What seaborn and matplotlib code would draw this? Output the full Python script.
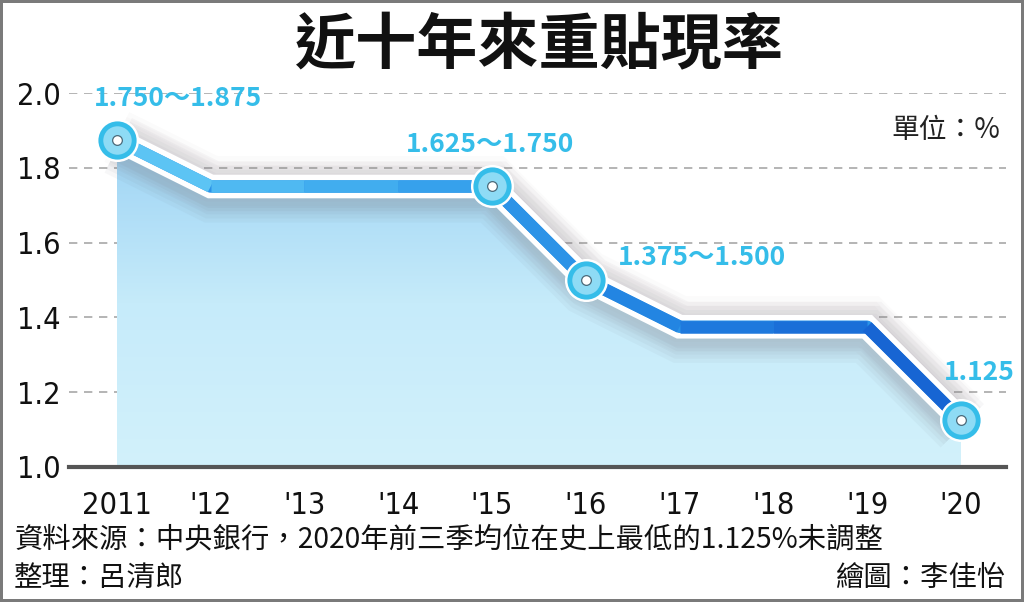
import numpy as np
import matplotlib
matplotlib.use('Agg')
import matplotlib.pyplot as plt
import matplotlib.patheffects as pe
from matplotlib.collections import LineCollection
from matplotlib.colors import LinearSegmentedColormap
from matplotlib.patches import PathPatch
import seaborn as sns

# data
years = ['2011', "'12", "'13", "'14", "'15", "'16", "'17", "'18", "'19", "'20"]
rates = [1.875, 1.75, 1.75, 1.75, 1.75, 1.5, 1.375, 1.375, 1.375, 1.125]
labels = ['1.750～1.875', '', '', '', '1.625～1.750', '1.375～1.500', '', '', '', '1.125']
label_offsets = [(61, 41), None, None, None, (-2, 42), (116, 22), None, None, None, (18, 48)]
yticks = [1.0, 1.2, 1.4, 1.6, 1.8, 2.0]

title = '近十年來重貼現率'
unit = '單位：%'
source = '資料來源：中央銀行，2020年前三季均位在史上最低的1.125%未調整'
editor = '整理：呂清郎'
artist = '繪圖：李佳怡'

sns.set_style('white')
plt.rcParams['font.family'] = ['Noto Sans CJK TC', 'DejaVu Sans']

x = np.arange(len(years))
y = np.array(rates)

fig = plt.figure(figsize=(10.24, 6.02), dpi=100, linewidth=3, edgecolor='#7a7a7a')
ax = fig.add_axes([0.0674, 0.2243, 0.9150, 0.6212])

# gradient fill under the line
fill = ax.fill_between(x, y, 1.0, color='none', lw=0)
clip = PathPatch(fill.get_paths()[0], transform=ax.transData, facecolor='none', edgecolor='none')
ax.add_patch(clip)
fill_cmap = LinearSegmentedColormap.from_list('fill', ['#d2f1fb', '#c6ebfa', '#9dd3f4'])
grad = np.linspace(0, 1, 256).reshape(-1, 1)
im = ax.imshow(grad, extent=[x[0], x[-1], 1.0, y.max()], origin='lower', aspect='auto',
               cmap=fill_cmap, zorder=1)
im.set_clip_path(clip)

# soft shadow: stacked faint strokes
glow = [pe.SimpleLineShadow(offset=(1, -4), shadow_color='#6a6a78', alpha=0.05, linewidth=w)
        for w in (44, 38, 32, 27, 23)]
glow += [pe.SimpleLineShadow(offset=(0, 2), shadow_color='#a89090', alpha=0.035, linewidth=w)
         for w in (40, 32, 26)]
sns.lineplot(x=x, y=y, ax=ax, color='white', lw=17, zorder=3,
             solid_joinstyle='miter', solid_capstyle='butt',
             path_effects=glow + [pe.Normal()])

# coloured line, light to dark blue
line_cmap = LinearSegmentedColormap.from_list('line', ['#63c9f5', '#3aa8ee', '#1f7ee0', '#1660d0'])
seg_colors = line_cmap((x[:-1] + 0.5) / x[-1])
sns.lineplot(x=x, y=y, ax=ax, color='#2b93e8', lw=9, zorder=4, solid_joinstyle='round')
pts = np.column_stack([x, y]).reshape(-1, 1, 2)
segs = np.concatenate([pts[:-1], pts[1:]], axis=1)
lc = LineCollection(segs, colors=seg_colors, linewidths=9, capstyle='butt', zorder=4.5)
ax.add_collection(lc)

# circles and labels
for xi, yi, lab, off in zip(x, y, labels, label_offsets):
    if not lab:
        continue
    ax.plot(xi, yi, 'o', ms=30, color='white', zorder=5)
    ax.plot(xi, yi, 'o', ms=24, mfc='#8edbf5', mec='#35bde9', mew=3.5, zorder=6)
    ax.plot(xi, yi, 'o', ms=7, mfc='white', mec='#4a6a7a', mew=0.9, zorder=7)
    ax.annotate(lab, (xi, yi), xytext=off, textcoords='offset pixels', ha='center', va='center',
                fontsize=19, fontweight='bold', color='#35bde9', zorder=8, annotation_clip=False)

ax.set_xlim(-0.51, 9.48)
ax.set_ylim(1.0, 2.0)
ax.set_xticks(x)
ax.set_xticklabels(years, family='DejaVu Sans', fontstretch='condensed', fontsize=22)
ax.set_yticks(yticks)
ax.set_yticklabels([f'{v:.1f}' for v in yticks], family='DejaVu Sans', fontstretch='condensed', fontsize=22)
ax.yaxis.grid(True, linestyle=(0, (5, 4)), color='#a8a8a8', lw=1.2, zorder=0)
ax.xaxis.grid(False)
ax.set_axisbelow(True)
for side in ['left', 'right', 'top']:
    ax.spines[side].set_visible(False)
ax.spines['bottom'].set_color('#555555')
ax.spines['bottom'].set_linewidth(3)
ax.spines['bottom'].set_zorder(9)
ax.tick_params(axis='x', direction='out', length=14, width=2, color='#555555', pad=3, labelcolor='#111111')
ax.tick_params(axis='y', length=0, pad=6, labelcolor='#111111')
ax.set_xlabel('')
ax.set_ylabel('')

fig.text(0.527, 0.922, title, ha='center', va='center', fontsize=44, fontweight='bold', color='#111111')
fig.text(0.977, 0.784, unit, ha='right', va='center', fontsize=20, color='#222222')
fig.text(0.014, 0.103, source, ha='left', va='center', fontsize=20.4, color='#111111')
fig.text(0.014, 0.040, editor, ha='left', va='center', fontsize=20.4, color='#111111')
fig.text(0.982, 0.040, artist, ha='right', va='center', fontsize=20.4, color='#111111')

fig.savefig('out.png', dpi=100)
